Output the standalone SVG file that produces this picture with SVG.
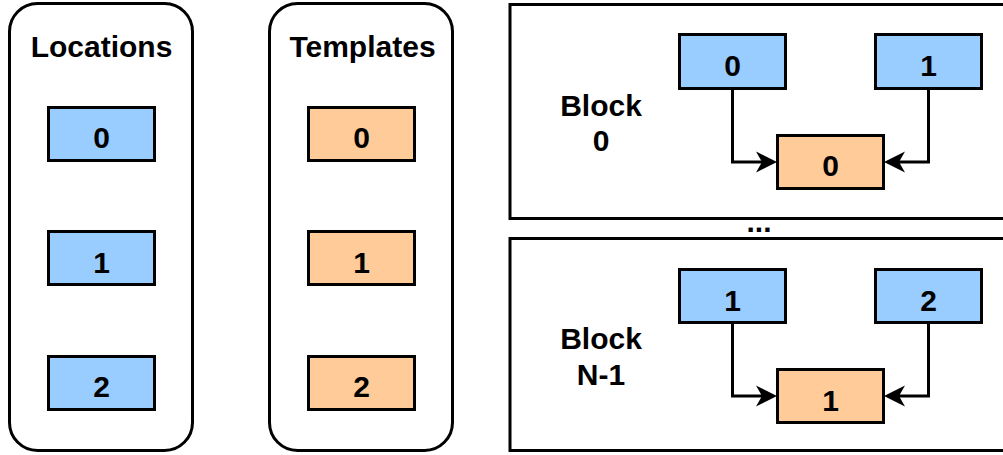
<svg xmlns="http://www.w3.org/2000/svg" width="1003" height="455" viewBox="0 0 1003 455">
  <style>
    .frame { fill: #ffffff; stroke: #000000; stroke-width: 3; }
    .loc { fill: #99ccff; stroke: #000000; stroke-width: 3; }
    .tpl { fill: #ffcc99; stroke: #000000; stroke-width: 3; }
    .lbl { font-family: "Liberation Sans", Arial, Helvetica, sans-serif; font-weight: bold; font-size: 30px; fill: #000000; text-anchor: middle; }
    .wire { fill: none; stroke: #000000; stroke-width: 3; marker-end: url(#arrow); }
  </style>
  <defs>
    <marker id="arrow" markerUnits="userSpaceOnUse" viewBox="-8 -12 24 24" markerWidth="24" markerHeight="24" refX="0" refY="0" orient="auto">
      <path d="M15,0 L-6,-10.5 L0,0 L-6,10.5 Z" fill="#000000"/>
    </marker>
  </defs>

  <!-- Locations column -->
  <g id="locations">
    <rect class="frame" x="9.5" y="3.5" width="183" height="447" rx="28" ry="28"/>
    <text class="lbl" x="101.5" y="56.5">Locations</text>
  </g>
  <g id="loc-0"><rect class="loc" x="48.5" y="107.5" width="106" height="53"/><text class="lbl" x="101.5" y="148">0</text></g>
  <g id="loc-1"><rect class="loc" x="48.5" y="231.5" width="106" height="53"/><text class="lbl" x="101.5" y="272.5">1</text></g>
  <g id="loc-2"><rect class="loc" x="48.5" y="356.5" width="106" height="53"/><text class="lbl" x="101.5" y="397">2</text></g>

  <!-- Templates column -->
  <g id="templates">
    <rect class="frame" x="269.5" y="3.5" width="183" height="447" rx="28" ry="28"/>
    <text class="lbl" x="362.5" y="56.5">Templates</text>
  </g>
  <g id="tpl-0"><rect class="tpl" x="308.5" y="107.5" width="106" height="53"/><text class="lbl" x="361.5" y="148">0</text></g>
  <g id="tpl-1"><rect class="tpl" x="308.5" y="231.5" width="106" height="53"/><text class="lbl" x="361.5" y="272.5">1</text></g>
  <g id="tpl-2"><rect class="tpl" x="308.5" y="356.5" width="106" height="53"/><text class="lbl" x="361.5" y="397">2</text></g>

  <!-- Block 0 -->
  <g id="block-0">
    <rect class="frame" x="510" y="4.5" width="600" height="214"/>
    <text class="lbl" x="601" y="115.5">Block</text>
    <text class="lbl" x="601" y="151">0</text>
  </g>
  <g id="b0-loc-0"><rect class="loc" x="679.5" y="34.5" width="106" height="54"/><text class="lbl" x="732.5" y="76">0</text></g>
  <g id="b0-loc-1"><rect class="loc" x="875.5" y="34.5" width="106" height="54"/><text class="lbl" x="928.5" y="76">1</text></g>
  <g id="b0-tpl-0"><rect class="tpl" x="777.5" y="135.5" width="106" height="53"/><text class="lbl" x="830.5" y="176">0</text></g>

  <!-- gap marker between blocks -->
  <g id="ellipsis">
    <text class="lbl" x="759" y="232">...</text>
  </g>

  <!-- Block N-1 -->
  <g id="block-n1">
    <rect class="frame" x="510" y="238.5" width="600" height="212"/>
    <text class="lbl" x="601" y="349">Block</text>
    <text class="lbl" x="601" y="385">N-1</text>
  </g>
  <g id="bn-loc-1"><rect class="loc" x="679.5" y="269.5" width="106" height="53"/><text class="lbl" x="732.5" y="310.5">1</text></g>
  <g id="bn-loc-2"><rect class="loc" x="875.5" y="269.5" width="106" height="53"/><text class="lbl" x="928.5" y="310.5">2</text></g>
  <g id="bn-tpl-1"><rect class="tpl" x="777.5" y="369.5" width="106" height="53"/><text class="lbl" x="830.5" y="410.5">1</text></g>

  <!-- connectors -->
  <g id="connectors">
    <path class="wire" d="M732.5,88.5 V162 H762"/>
    <path class="wire" d="M928.5,88.5 V162 H899"/>
    <path class="wire" d="M732.5,322.5 V396 H762"/>
    <path class="wire" d="M928.5,322.5 V396 H899"/>
  </g>
</svg>
